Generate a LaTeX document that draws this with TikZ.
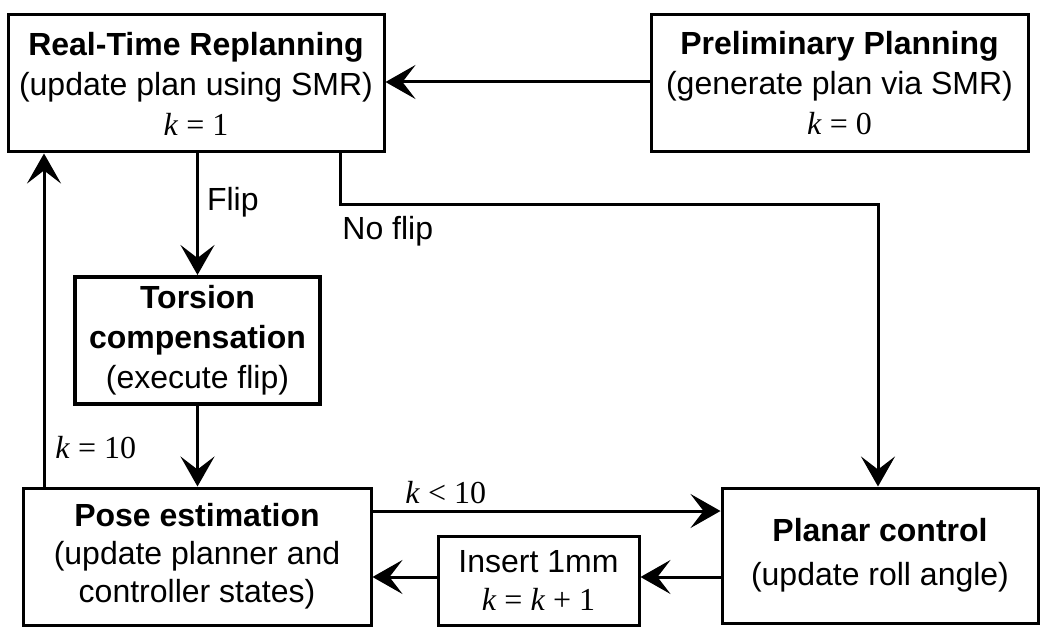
\documentclass[tikz,border=0pt]{standalone}
\usepackage{fontspec}
\setmainfont{Liberation Sans}
\newfontfamily\tmsf{Liberation Serif}
\usetikzlibrary{arrows.meta}
\newcommand\kexpr[1]{{\tmsf #1}}
\begin{document}
\begin{tikzpicture}[x=0.5pt,y=-0.5pt,
  box/.style={draw, line width=1.5pt, align=center, inner sep=0pt, font=\fontsize{16}{20}\selectfont},
  conn/.style={line width=1.5pt, -{Stealth[length=15pt,width=17pt,inset=6.5pt]}},
  lbl/.style={font=\fontsize{16}{20}\selectfont, inner sep=0pt}]
\useasboundingbox (0,0) rectangle (1050,642);

\node[box, minimum width=188pt, minimum height=68.5pt] (rtr) at (196,83.5)
  {\textbf{Real-Time Replanning}\\(update plan using SMR)\\\kexpr{\textit{k} = 1}};
\node[box, minimum width=188.5pt, minimum height=68.5pt] (pre) at (839.5,83.5)
  {\textbf{Preliminary Planning}\\(generate plan via SMR)\\\kexpr{\textit{k} = 0}};
\node[box, line width=2pt, minimum width=122.5pt, minimum height=63.5pt] (tor) at (197.5,340.5)
  {\textbf{Torsion}\\\textbf{compensation}\\(execute flip)};
\node[box, font=\fontsize{16}{19}\selectfont, minimum width=174pt, minimum height=68.5pt] (pose) at (197,556.5)
  {\textbf{Pose estimation}\\(update planner and\\controller states)};
\node[box, font=\fontsize{16}{19}\selectfont, minimum width=100.5pt, minimum height=44.5pt] (ins) at (538.5,580.5)
  {Insert 1mm\\\kexpr{\textit{k} = \textit{k} + 1}};
\node[box, font=\fontsize{16}{22}\selectfont, minimum width=158pt, minimum height=67.5pt] (plan) at (880,555.5)
  {\textbf{Planar control}\\(update roll angle)};

\coordinate (nfa) at (340,204);
\coordinate (nfb) at (878,204);
\coordinate (lft) at (44,450);
\coordinate (klt) at (0,511);
\coordinate (inl) at (0,577);

% Preliminary -> Real-time
\draw[conn] (pre.west |- 0,82) -- (rtr.east |- 0,82);
% Flip
\draw[conn] (rtr.south -| tor.north) -- (tor.north)
  node[lbl, pos=0.4, anchor=west, xshift=4pt] (flipl) {Flip};
% Torsion -> Pose
\draw[conn] (tor.south) -- (tor.south |- pose.north);
% No flip
\draw[conn] (rtr.south -| nfa) -- (nfa) -- (nfb) -- (nfb |- plan.north);
\node[lbl, anchor=west] (nfl) at (342,231) {No flip};
% k = 10
\draw[conn] (lft |- pose.north) -- (lft |- rtr.south);
\node[lbl, anchor=west] (k10) at (55,448) {\kexpr{\textit{k} = 10}};
% k < 10
\draw[conn] (pose.east |- klt) -- (plan.west |- klt);
\node[lbl, anchor=west] (kl10) at (405,493) {\kexpr{\textit{k} < 10}};
% Planar -> Insert -> Pose
\draw[conn] (plan.west |- inl) -- (ins.east |- inl);
\draw[conn] (ins.west |- inl) -- (pose.east |- inl);
\end{tikzpicture}
\end{document}
